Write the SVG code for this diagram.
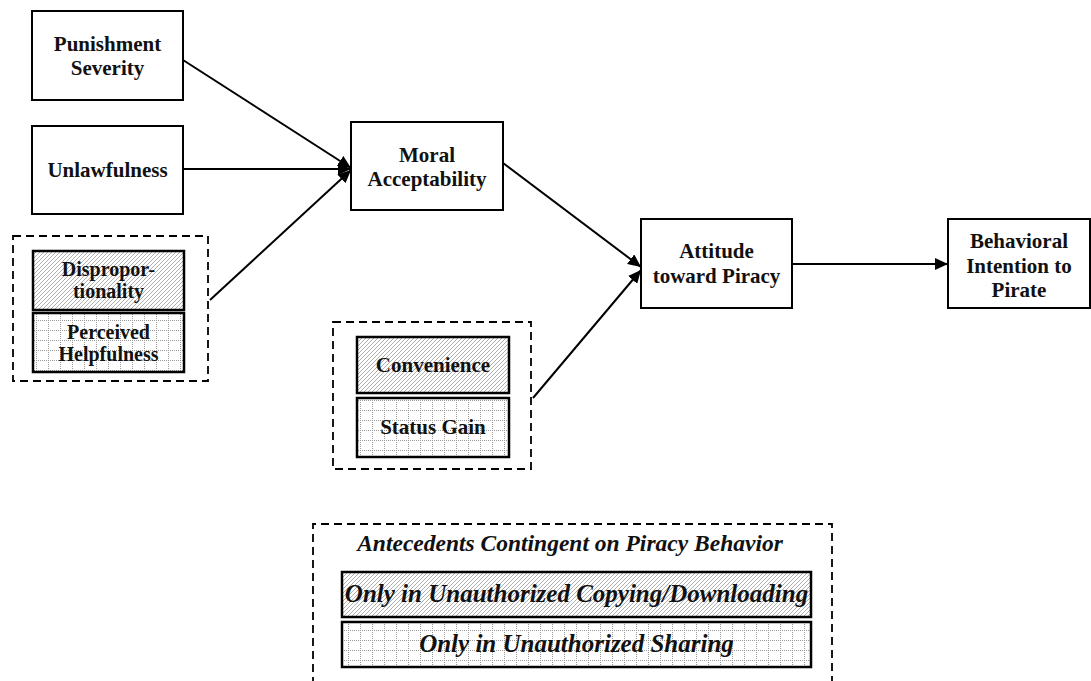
<svg xmlns="http://www.w3.org/2000/svg" width="1091" height="681" viewBox="0 0 1091 681">
<style>
.node{fill:#fff;stroke:#000;stroke-width:2}
.pat{stroke:#000;stroke-width:2.5}
.dash{fill:none;stroke:#000;stroke-width:1.8;stroke-dasharray:8,5}
.t{font-family:"Liberation Serif","Times New Roman",serif;font-weight:bold;font-size:21px;text-anchor:middle;fill:#111}
.ts{font-size:20px}
.ti{font-family:"Liberation Serif","Times New Roman",serif;font-weight:bold;font-style:italic;font-size:25px;text-anchor:middle;fill:#111}
.conn{stroke:#000;stroke-width:2;fill:none;marker-end:url(#ah)}
</style>
<defs>
<marker id="ah" markerUnits="userSpaceOnUse" markerWidth="14" markerHeight="12" refX="13" refY="6" orient="auto">
<path d="M0,0 L13,6 L0,12 Z" fill="#000"/>
</marker>
<pattern id="hatch" patternUnits="userSpaceOnUse" width="4" height="4">
<rect width="4" height="4" fill="#fff"/>
<path d="M-1,1 l2,-2 M0,4 l4,-4 M3,5 l2,-2" stroke="#9a9a9a" stroke-width="0.8"/>
</pattern>
<pattern id="grid" patternUnits="userSpaceOnUse" width="12" height="10">
<rect width="12" height="10" fill="#fff"/>
<path d="M0.5,0 V10 M0,0.5 H12" stroke="#999" stroke-width="1" stroke-dasharray="1,1"/>
</pattern>
</defs>

<g id="connectors">
<line class="conn" x1="183" y1="60" x2="351" y2="168"/>
<line class="conn" x1="183" y1="169" x2="351" y2="169"/>
<line class="conn" x1="210" y1="300" x2="351" y2="170"/>
<line class="conn" x1="503" y1="163" x2="641" y2="267"/>
<line class="conn" x1="533" y1="398" x2="641" y2="270"/>
<line class="conn" x1="792" y1="264" x2="948" y2="264"/>
</g>

<g id="punishment-severity">
<rect class="node" x="32" y="11" width="151" height="89"/>
<text class="t" x="107.5" y="51">Punishment</text>
<text class="t" x="107.5" y="75">Severity</text>
</g>

<g id="unlawfulness">
<rect class="node" x="32" y="126" width="151" height="88"/>
<text class="t" x="107.5" y="177">Unlawfulness</text>
</g>

<g id="group-left">
<rect class="dash" x="13" y="236" width="195" height="145"/>
</g>

<g id="disproportionality">
<rect class="pat" fill="url(#hatch)" x="33" y="251" width="151" height="59"/>
<text class="t ts" x="108.5" y="276">Dispropor-</text>
<text class="t ts" x="108.5" y="298">tionality</text>
</g>

<g id="perceived-helpfulness">
<rect class="pat" fill="url(#grid)" x="33" y="313" width="151" height="59"/>
<text class="t ts" x="108.5" y="339">Perceived</text>
<text class="t ts" x="108.5" y="361">Helpfulness</text>
</g>

<g id="moral-acceptability">
<rect class="node" x="351" y="122" width="152" height="88"/>
<text class="t" x="427" y="162">Moral</text>
<text class="t" x="427" y="186">Acceptability</text>
</g>

<g id="attitude">
<rect class="node" x="641" y="219" width="151" height="89"/>
<text class="t" x="716.5" y="258">Attitude</text>
<text class="t" x="716.5" y="283">toward Piracy</text>
</g>

<g id="behavioral-intention">
<rect class="node" x="948" y="219" width="142" height="89"/>
<text class="t" x="1019" y="248">Behavioral</text>
<text class="t" x="1019" y="273">Intention to</text>
<text class="t" x="1019" y="297">Pirate</text>
</g>

<g id="group-middle">
<rect class="dash" x="333" y="322" width="198" height="147"/>
</g>

<g id="convenience">
<rect class="pat" fill="url(#hatch)" x="357" y="337" width="152" height="56"/>
<text class="t" x="433" y="372">Convenience</text>
</g>

<g id="status-gain">
<rect class="pat" fill="url(#grid)" x="357" y="398" width="152" height="59"/>
<text class="t" x="433" y="434">Status Gain</text>
</g>

<g id="legend">
<path class="dash" d="M313,685 V524 H832 V685"/>
<text class="ti" x="570" y="551" style="font-size:23.5px">Antecedents Contingent on Piracy Behavior</text>
<rect class="pat" fill="url(#hatch)" x="342" y="572" width="469" height="45"/>
<text class="ti" x="576.5" y="602">Only in Unauthorized Copying/Downloading</text>
<rect class="pat" fill="url(#grid)" x="342" y="622" width="469" height="45"/>
<text class="ti" x="576.5" y="652">Only in Unauthorized Sharing</text>
</g>
</svg>
